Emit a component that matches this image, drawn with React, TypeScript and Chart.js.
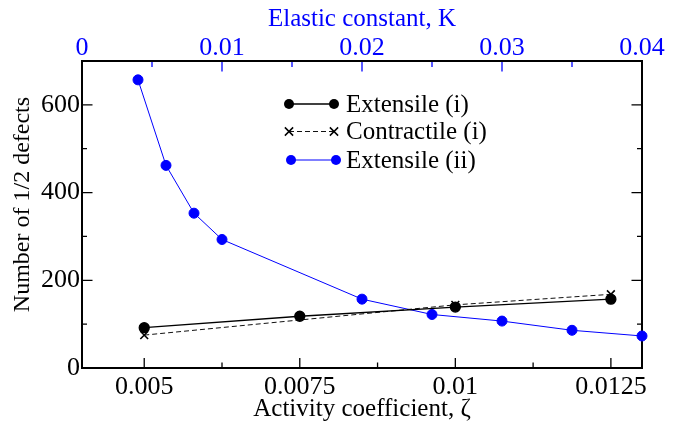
import React, { useEffect, useRef } from "react";
import { Chart, registerables } from "chart.js";

Chart.register(...registerables);

// ---- data ----
const zetaExtensile = [0.005, 0.0075, 0.01, 0.0125];
const defectsExtensile = [92, 118, 139, 157];
const zetaContractile = [0.005, 0.01, 0.0125];
const defectsContractile = [75, 144, 168];
const kExtensileII = [0.004, 0.006, 0.008, 0.01, 0.02, 0.025, 0.03, 0.035, 0.04];
const defectsExtensileII = [657, 462, 353, 293, 157, 122, 107, 86, 73];

// ---- ticks ----
const zetaTicks = [0.005, 0.0075, 0.01, 0.0125];
const zetaTickLabels = ["0.005", "0.0075", "0.01", "0.0125"];
const zetaMinor = [0.00625, 0.00875, 0.01125];
const kTicks = [0, 0.01, 0.02, 0.03, 0.04];
const kTickLabels = ["0", "0.01", "0.02", "0.03", "0.04"];
const kMinor = [0.005, 0.015, 0.025, 0.035];
const yTicks = [0, 200, 400, 600];
const yTickLabels = ["0", "200", "400", "600"];
const yMinor = [100, 300, 500];
const yTitle = "Number of 1/2 defects";

const BLUE = "#0000ff";
const FAMILY = "'Liberation Serif', 'Times New Roman', serif";
const TICK_FONT = { family: FAMILY, size: 26 };
const TICK_FONT_TOP = { family: FAMILY, size: 26, lineHeight: 1 };
const TITLE_FONT = { family: FAMILY, size: 25 };

function drawMarker(ctx: CanvasRenderingContext2D, style: string, x: number, y: number, r: number, color: string) {
  ctx.save();
  if (style === "crossRot") {
    ctx.strokeStyle = color;
    ctx.lineWidth = 1.5;
    ctx.beginPath();
    ctx.moveTo(x - r * 0.75, y - r * 0.75);
    ctx.lineTo(x + r * 0.75, y + r * 0.75);
    ctx.moveTo(x + r * 0.75, y - r * 0.75);
    ctx.lineTo(x - r * 0.75, y + r * 0.75);
    ctx.stroke();
  } else {
    ctx.fillStyle = color;
    ctx.beginPath();
    ctx.arc(x, y, r, 0, Math.PI * 2);
    ctx.fill();
  }
  ctx.restore();
}

const framePlugin = {
  id: "frame",
  beforeDatasetsDraw(chart: any) {
    const { ctx, chartArea: a, scales } = chart;
    ctx.save();
    const tick = (
      scale: any,
      vals: number[],
      len: number,
      color: string,
      edge: "bottom" | "top" | "left" | "right"
    ) => {
      ctx.strokeStyle = color;
      ctx.lineWidth = 1.3;
      ctx.beginPath();
      for (const v of vals) {
        const p = scale.getPixelForValue(v);
        if (edge === "bottom") { ctx.moveTo(p, a.bottom); ctx.lineTo(p, a.bottom - len); }
        if (edge === "top") { ctx.moveTo(p, a.top); ctx.lineTo(p, a.top + len); }
        if (edge === "left") { ctx.moveTo(a.left, p); ctx.lineTo(a.left + len, p); }
        if (edge === "right") { ctx.moveTo(a.right, p); ctx.lineTo(a.right - len, p); }
      }
      ctx.stroke();
    };
    tick(scales.x, zetaTicks, 10, "#000", "bottom");
    tick(scales.x, zetaMinor, 5.5, "#000", "bottom");
    tick(scales.x2, kTicks, 10.5, BLUE, "top");
    tick(scales.x2, kMinor, 6, BLUE, "top");
    tick(scales.y, yTicks, 10.5, "#000", "left");
    tick(scales.y, yMinor, 5, "#000", "left");
    tick(scales.y, yTicks, 10.5, "#000", "right");
    tick(scales.y, yMinor, 5, "#000", "right");
    ctx.strokeStyle = "#000";
    ctx.lineWidth = 2;
    ctx.strokeRect(a.left, a.top, a.right - a.left, a.bottom - a.top);

    // y axis title
    ctx.translate(23, (a.top + a.bottom) / 2 - 10);
    ctx.rotate(-Math.PI / 2);
    ctx.fillStyle = "#000";
    ctx.font = `24px ${FAMILY}`;
    ctx.textAlign = "center";
    ctx.textBaseline = "middle";
    ctx.fillText(yTitle, 0, 0);
    ctx.restore();
  },
};

const legendPlugin = {
  id: "customLegend",
  afterDraw(chart: any) {
    const { ctx, chartArea: a } = chart;
    const x0 = a.left + 207;
    const x1 = a.left + 252;
    const tx = a.left + 264;
    const rows = [a.top + 43, a.top + 70.5, a.top + 99];
    ctx.save();
    chart.data.datasets.forEach((ds: any, i: number) => {
      const y = rows[i];
      const shift = i === 2 ? 2 : 0;
      ctx.strokeStyle = ds.borderColor;
      ctx.lineWidth = ds.borderWidth;
      ctx.setLineDash(ds.borderDash || []);
      ctx.beginPath();
      ctx.moveTo(x0 + shift, y);
      ctx.lineTo(x1 + shift, y);
      ctx.stroke();
      ctx.setLineDash([]);
      drawMarker(ctx, ds.pointStyle, x0 + shift, y, ds.pointRadius, ds.pointBackgroundColor);
      drawMarker(ctx, ds.pointStyle, x1 + shift, y, ds.pointRadius, ds.pointBackgroundColor);
      ctx.fillStyle = "#000";
      ctx.font = `${TITLE_FONT.size}px ${FAMILY}`;
      ctx.textBaseline = "middle";
      ctx.textAlign = "left";
      ctx.fillText(ds.label, tx, y + 1);
    });
    ctx.restore();
  },
};

export default function App() {
  const ref = useRef<HTMLCanvasElement | null>(null);
  useEffect(() => {
    const canvas = ref.current!;
    const chart = new Chart(canvas, {
      type: "line",
      data: {
        datasets: [
          {
            label: "Extensile (i)",
            xAxisID: "x",
            yAxisID: "y",
            data: zetaExtensile.map((x, i) => ({ x, y: defectsExtensile[i] })),
            borderColor: "#000",
            backgroundColor: "#000",
            pointBackgroundColor: "#000",
            pointBorderColor: "#000",
            borderWidth: 1.3,
            pointRadius: 5,
            pointStyle: "circle",
            clip: false,
          } as any,
          {
            label: "Contractile (i)",
            xAxisID: "x",
            yAxisID: "y",
            data: zetaContractile.map((x, i) => ({ x, y: defectsContractile[i] })),
            borderColor: "#111",
            backgroundColor: "#000",
            pointBackgroundColor: "#000",
            pointBorderColor: "#000",
            borderWidth: 1,
            borderDash: [5, 3],
            pointRadius: 5.5,
            pointBorderWidth: 1.6,
            pointStyle: "crossRot",
            clip: false,
          } as any,
          {
            label: "Extensile (ii)",
            xAxisID: "x2",
            yAxisID: "y",
            data: kExtensileII.map((x, i) => ({ x, y: defectsExtensileII[i] })),
            borderColor: BLUE,
            backgroundColor: BLUE,
            pointBackgroundColor: BLUE,
            pointBorderColor: BLUE,
            borderWidth: 1,
            pointRadius: 5,
            pointStyle: "circle",
            clip: false,
          } as any,
        ],
      },
      options: {
        responsive: false,
        animation: false,
        devicePixelRatio: 1,
        layout: { padding: { left: 0, right: 38, top: 0, bottom: 0 } },
        plugins: { legend: { display: false }, tooltip: { enabled: false } },
        elements: { line: { tension: 0 } },
        scales: {
          x: {
            type: "linear",
            position: "bottom",
            min: 0.004,
            max: 0.013,
            grid: { display: false, drawTicks: false },
            border: { display: false },
            afterBuildTicks: (s: any) => { s.ticks = zetaTicks.map((v) => ({ value: v })); },
            afterFit: (s: any) => { s.height = 56; },
            ticks: {
              autoSkip: false,
              maxRotation: 0,
              color: "#000",
              font: TICK_FONT,
              padding: 4,
              callback: (_v: any, i: number) => zetaTickLabels[i],
            },
            title: { display: true, text: "Activity coefficient, ζ", color: "#000", font: TITLE_FONT, padding: { top: 0, bottom: 0 } },
          },
          x2: {
            type: "linear",
            position: "top",
            min: 0,
            max: 0.04,
            grid: { display: false, drawTicks: false },
            border: { display: false },
            afterBuildTicks: (s: any) => { s.ticks = kTicks.map((v) => ({ value: v })); },
            afterFit: (s: any) => { s.height = 61; },
            ticks: {
              autoSkip: false,
              maxRotation: 0,
              color: BLUE,
              font: TICK_FONT_TOP,
              padding: 0,
              callback: (_v: any, i: number) => kTickLabels[i],
            },
            title: { display: true, text: "Elastic constant, K", color: BLUE, font: TITLE_FONT, padding: { top: 4, bottom: 0 } },
          },
          y: {
            type: "linear",
            position: "left",
            min: 0,
            max: 700,
            grid: { display: false, drawTicks: false },
            border: { display: false },
            afterBuildTicks: (s: any) => { s.ticks = yTicks.map((v) => ({ value: v })); },
            afterFit: (s: any) => { s.width = 82; },
            ticks: {
              autoSkip: false,
              color: "#000",
              font: TICK_FONT,
              padding: 2,
              callback: (_v: any, i: number) => yTickLabels[i],
            },
            title: { display: false },
          },
        },
      },
      plugins: [framePlugin, legendPlugin],
    });
    return () => chart.destroy();
  }, []);
  return (
    <div style={{ position: "absolute", left: 0, top: 0, width: 680, height: 424, background: "#fff" }}>
      <canvas ref={ref} width={680} height={424} style={{ display: "block" }} />
    </div>
  );
}
